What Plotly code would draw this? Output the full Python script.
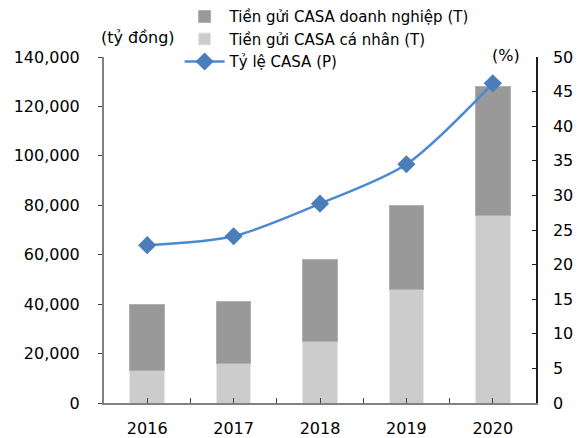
import plotly.graph_objects as go

years = [2016, 2017, 2018, 2019, 2020]
casa_ca_nhan = [13000, 16000, 25000, 46000, 76000]
casa_doanh_nghiep = [27000, 25000, 33000, 34000, 52000]
ty_le_casa = [22.8, 24.1, 28.8, 34.5, 46.2]

FONT = "DejaVu Sans"

fig = go.Figure()
fig.add_trace(go.Bar(x=years, y=casa_ca_nhan, name="Tiền gửi CASA cá nhân (T)",
                     marker=dict(color="#cccccc", line=dict(color="#e6e6e6", width=1)),
                     width=0.4, legendrank=2))
fig.add_trace(go.Bar(x=years, y=casa_doanh_nghiep, name="Tiền gửi CASA doanh nghiệp (T)",
                     marker=dict(color="#999999", line=dict(color="#b0b0b0", width=1)),
                     width=0.4, legendrank=1))
fig.add_trace(go.Scatter(x=years, y=ty_le_casa, name="Tỷ lệ CASA (P)", yaxis="y2",
                         mode="lines+markers",
                         line=dict(color="#4a8ad4", width=2.5, shape="spline", smoothing=0.8),
                         marker=dict(symbol="diamond", size=14, color="#4a7ebb"),
                         legendrank=3))

# page body has an 8px margin, so the figure is drawn 8px smaller
fig.update_layout(
    width=576, height=430,
    margin=dict(l=96, r=48, t=49, b=35, autoexpand=False),
    paper_bgcolor="white", plot_bgcolor="white",
    barmode="stack",
    font=dict(family=FONT, size=16, color="black"),
    showlegend=True,
    legend=dict(x=0.175, y=1.164, xanchor="left", yanchor="top", traceorder="normal",
                font=dict(size=15), bgcolor="rgba(0,0,0,0)", tracegroupgap=0,
                itemwidth=40),
    xaxis=dict(range=[2015.5, 2020.5], tickvals=years, ticktext=[str(y) for y in years],
               ticks="inside", ticklen=5, tickcolor="#404040", ticklabelstandoff=10,
               minor=dict(dtick=0.5, tick0=2015.5, ticks="inside", ticklen=5, tickcolor="#404040"),
               showline=True, linecolor="#808080", linewidth=2, showgrid=False, zeroline=False),
    yaxis=dict(range=[0, 140000], dtick=20000, tickformat=",", ticks="outside", ticklen=4,
               tickcolor="#404040", showline=True, linecolor="#808080", linewidth=2,
               showgrid=False, zeroline=False, ticklabelstandoff=15),
    yaxis2=dict(range=[0, 50], dtick=5, overlaying="y", side="right", ticks="inside",
                ticklen=4, tickcolor="#202020", showline=True, linecolor="#202020",
                linewidth=1.5, showgrid=False, zeroline=False, ticklabelstandoff=12),
    annotations=[
        dict(text="(tỷ đồng)", xref="paper", yref="paper", x=0.079, y=1.055,
             xanchor="center", yanchor="middle", showarrow=False, font=dict(size=16)),
        dict(text="(%)", xref="paper", yref="paper", x=0.93, y=1.005,
             xanchor="center", yanchor="middle", showarrow=False, font=dict(size=16)),
    ],
)

fig.write_html("out.html")
